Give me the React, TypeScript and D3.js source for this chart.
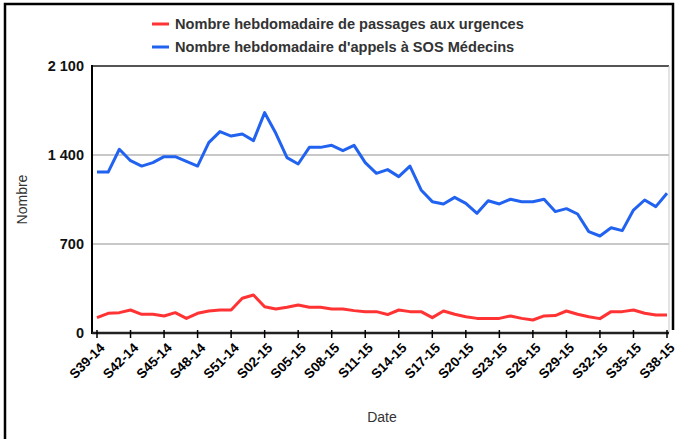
import * as d3 from "d3";

const weeks = [
  "S39-14", "S40-14", "S41-14", "S42-14", "S43-14", "S44-14", "S45-14", "S46-14",
  "S47-14", "S48-14", "S49-14", "S50-14", "S51-14", "S52-14", "S01-15", "S02-15",
  "S03-15", "S04-15", "S05-15", "S06-15", "S07-15", "S08-15", "S09-15", "S10-15",
  "S11-15", "S12-15", "S13-15", "S14-15", "S15-15", "S16-15", "S17-15", "S18-15",
  "S19-15", "S20-15", "S21-15", "S22-15", "S23-15", "S24-15", "S25-15", "S26-15",
  "S27-15", "S28-15", "S29-15", "S30-15", "S31-15", "S32-15", "S33-15", "S34-15",
  "S35-15", "S36-15", "S37-15", "S38-15",
];

// passages aux urgences
const urgences = [
  121, 155, 160, 181, 147, 147, 134, 160, 115, 155, 173, 181, 181, 273, 299, 207,
  189, 202, 220, 202, 202, 189, 189, 176, 168, 168, 145, 181, 168, 168, 121, 173,
  147, 128, 115, 115, 115, 134, 115, 102, 134, 137, 173, 147, 128, 113, 168, 168,
  181, 155, 142, 142,
];

// appels SOS Médecins
const sos = [
  1266, 1266, 1445, 1355, 1313, 1340, 1387, 1387, 1350, 1313, 1497, 1584, 1549, 1565, 1513, 1733,
  1571, 1379, 1329, 1460, 1460, 1476, 1434, 1476, 1340, 1256, 1285, 1230, 1313, 1125, 1033, 1015,
  1067, 1020, 941, 1040, 1015, 1052, 1033, 1033, 1052, 955, 978, 936, 797, 763, 828, 805,
  967, 1046, 994, 1099,
];

const yTicks = [0, 700, 1400, 2100];
const yTickLabels = ["0", "700", "1 400", "2 100"];
const xTickLabels = weeks.filter((_, i) => i % 3 === 0);

const series = [
  { name: "Nombre hebdomadaire de passages aux urgences", values: urgences, color: "#ff3333" },
  { name: "Nombre hebdomadaire d'appels à SOS Médecins", values: sos, color: "#2163f0" },
];

const W = 677;
const H = 439;
const font = "'Liberation Sans', Arial, sans-serif";

const App = () => {
  const left = 92;
  const right = 669;
  const top = 66;
  const bottom = 333;

  const x = d3.scalePoint<string>().domain(weeks).range([97, 667]);
  const y = d3.scaleLinear().domain([0, 2100]).range([bottom, top]);

  const line = d3
    .line<number>()
    .x((_, i) => x(weeks[i]) || 0)
    .y((d) => y(d));

  return (
    <svg
      width={W}
      height={H}
      style={{ position: "absolute", left: 0, top: 0, background: "#fff" }}
      fontFamily={font}
    >
      {/* outer frame */}
      <path d={`M5,${H} V4 H673 V330`} fill="none" stroke="#000" strokeWidth={2.5} />

      {/* legend */}
      {series.map((s, i) => (
        <g key={s.name} transform={`translate(152,${24 + i * 23})`}>
          <line x1={0} x2={17} y1={0} y2={0} stroke={s.color} strokeWidth={3} />
          <text x={23} dy="0.35em" fontSize={14.6} fontWeight="bold" fill="#333">
            {s.name}
          </text>
        </g>
      ))}

      {/* grid */}
      {yTicks.slice(1).map((t) => (
        <line
          key={t}
          x1={left}
          x2={right}
          y1={y(t)}
          y2={y(t)}
          stroke={t === 2100 ? "#555" : "#c8c8c8"}
          strokeWidth={2}
        />
      ))}
      <line x1={right} x2={right} y1={top} y2={bottom} stroke="#c8c8c8" strokeWidth={1} />

      {/* y tick labels */}
      {yTicks.map((t, i) => (
        <text
          key={t}
          x={84}
          y={y(t)}
          dy="0.35em"
          textAnchor="end"
          fontSize={14.5}
          fontWeight="bold"
          fill="#111"
        >
          {yTickLabels[i]}
        </text>
      ))}

      {/* series */}
      {series.map((s) => (
        <path
          key={s.name}
          d={line(s.values) || ""}
          fill="none"
          stroke={s.color}
          strokeWidth={3}
          strokeLinejoin="round"
        />
      ))}

      {/* axes */}
      <line x1={left} x2={left} y1={top - 1} y2={bottom + 1} stroke="#000" strokeWidth={2} />
      <line x1={left} x2={right} y1={bottom} y2={bottom} stroke="#222" strokeWidth={2.5} />
      {xTickLabels.map((w) => (
        <g key={w} transform={`translate(${x(w)},${bottom})`}>
          <line y1={-3} y2={5} stroke="#000" strokeWidth={1.5} />
          <text
            transform="translate(2,9) rotate(-45)"
            textAnchor="end"
            dy="0.7em"
            fontSize={13.5}
            fontWeight="bold"
            fill="#000"
          >
            {w}
          </text>
        </g>
      ))}

      {/* axis titles */}
      <text
        transform={`translate(27,${(top + bottom) / 2}) rotate(-90)`}
        textAnchor="middle"
        fontSize={14}
        fill="#333"
      >
        Nombre
      </text>
      <text x={382} y={422} textAnchor="middle" fontSize={14} fill="#333">
        Date
      </text>
    </svg>
  );
};

export default App;
